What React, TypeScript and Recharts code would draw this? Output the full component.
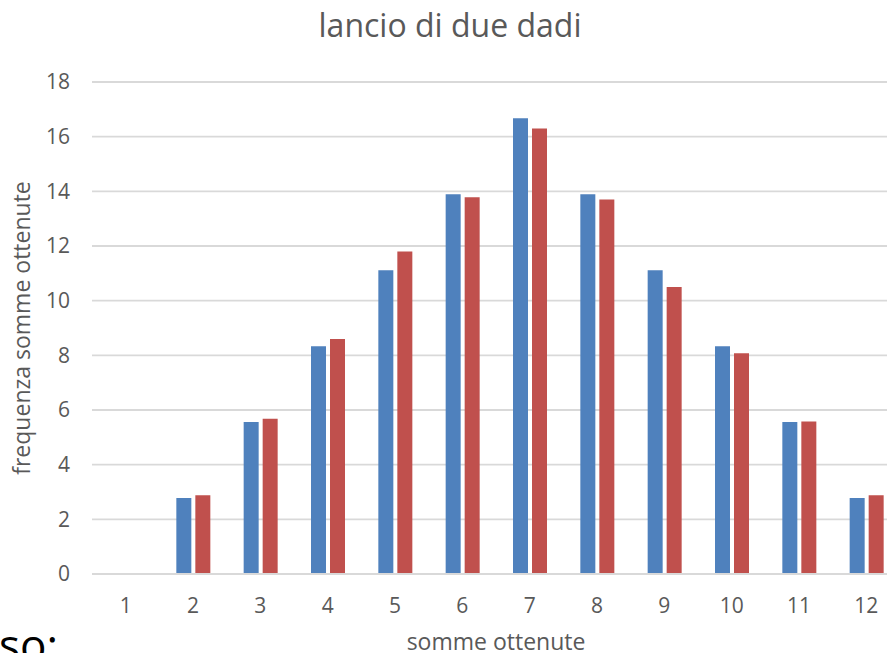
import { BarChart, Bar, XAxis, YAxis, CartesianGrid, Label } from 'recharts';

// somme ottenute lanciando due dadi
const somme = ['1', '2', '3', '4', '5', '6', '7', '8', '9', '10', '11', '12'];
const teorica = [0, 2.78, 5.56, 8.33, 11.11, 13.89, 16.67, 13.89, 11.11, 8.33, 5.56, 2.78];
const sperimentale = [0, 2.88, 5.68, 8.6, 11.8, 13.78, 16.3, 13.7, 10.5, 8.08, 5.58, 2.88];
const yTicks = [0, 2, 4, 6, 8, 10, 12, 14, 16, 18];

const data = somme.map((s, i) => ({ somma: s, teorica: teorica[i], sperimentale: sperimentale[i] }));

const font = '"Open Sans", sans-serif';
const grey = '#595959';

export default function App() {
    return (
        <div style={{ position: 'fixed', left: 0, top: 0, width: 887, height: 653, overflow: 'hidden', background: '#fff' }}>
            <div style={{ position: 'absolute', left: 0, top: 9, width: 900, textAlign: 'center', fontFamily: font, fontSize: 32, lineHeight: 1, color: grey }}>
                lancio di due dadi
            </div>
            <BarChart
                width={960}
                height={653}
                data={data}
                margin={{ top: 82, right: 60, left: 0, bottom: 0 }}
                barSize={15}
                barGap={4}
                style={{ fontFamily: font }}
            >
                <CartesianGrid vertical={false} stroke="#d9d9d9" strokeWidth={1.8} />
                <XAxis
                    dataKey="somma"
                    height={79}
                    tickLine={false}
                    axisLine={{ stroke: '#d9d9d9', strokeWidth: 1.8 }}
                    tick={{ fill: grey, fontSize: 21 }}
                    tickMargin={18}
                >
                    <Label value="somme ottenute" position="insideBottom" offset={3} fill={grey} fontSize={23} />
                </XAxis>
                <YAxis
                    width={92}
                    domain={[0, 18]}
                    ticks={yTicks}
                    tickLine={false}
                    axisLine={false}
                    tick={{ fill: grey, fontSize: 21 }}
                    tickMargin={16}
                >
                    <Label
                        value="frequenza somme ottenute"
                        angle={-90}
                        position="insideLeft"
                        offset={22}
                        fill={grey}
                        fontSize={23}
                        style={{ textAnchor: 'middle' }}
                    />
                </YAxis>
                <Bar dataKey="teorica" name="frequenza teorica" fill="#4f81bd" isAnimationActive={false} />
                <Bar dataKey="sperimentale" name="frequenza sperimentale" fill="#c0504d" isAnimationActive={false} />
            </BarChart>
            <div style={{ position: 'absolute', left: -1, top: 622, fontFamily: font, fontSize: 44, lineHeight: 1, color: '#000' }}>
                so:
            </div>
        </div>
    );
}
